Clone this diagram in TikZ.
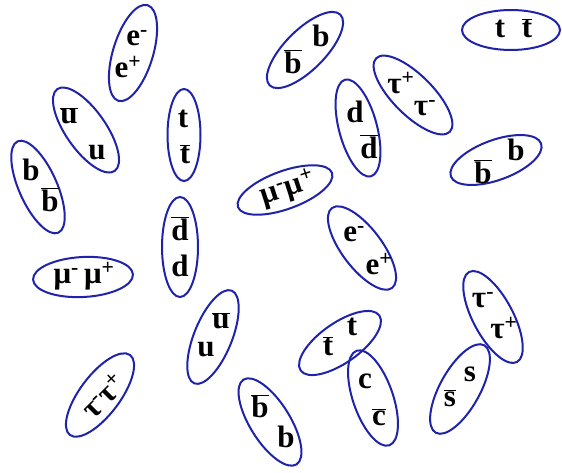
\documentclass[tikz,border=0pt]{standalone}
\usepackage{fontspec}
\setmainfont{Liberation Serif}
\usetikzlibrary{shapes.geometric}
\definecolor{pairblue}{RGB}{30,35,170}
\newcommand\ab[1]{$\overline{\hbox{#1}}$}
\newcommand\sm{\textsuperscript{-}}
\newcommand\spl{\textsuperscript{+}}
\tikzset{
  pair/.style={draw=pairblue, line width=2pt, ellipse, inner sep=0pt,
    minimum width=100pt, minimum height=40pt},
  lbl/.style={font=\fontsize{31}{31}\selectfont\bfseries, inner sep=0pt}
}
\begin{document}
\begin{tikzpicture}[x=1pt,y=-1pt]
\useasboundingbox (0,0) rectangle (562,472);
% ellipses
\node[pair,rotate=73] (E1) at (133,53) {};
\node[pair,rotate=125] (U1) at (86,130) {};
\node[pair,rotate=114,minimum height=38pt] (B1) at (38,187) {};
\node[pair,rotate=3] (M1) at (83,277) {};
\node[pair,rotate=90,minimum width=92pt,minimum height=33pt] (T1) at (184,135) {};
\node[pair,rotate=90,minimum height=36pt] (D1) at (180,247) {};
\node[pair,rotate=20,minimum height=38pt] (M2) at (285,190) {};
\node[pair,rotate=45] (B2) at (305,50) {};
\node[pair,rotate=105,minimum height=38pt] (D2) at (358,128) {};
\node[pair,rotate=135,minimum width=104pt] (Ta1) at (413,95) {};
\node[pair,rotate=0,minimum width=98pt] (T2) at (511,30) {};
\node[pair,rotate=20,minimum width=96pt] (B3) at (496,160) {};
\node[pair,rotate=127] (E2) at (362,248) {};
\node[pair,rotate=118,minimum width=102pt] (Ta2) at (493,317) {};
\node[pair,rotate=61] (S1) at (460,389) {};
\node[pair,rotate=109] (C1) at (373,398) {};
\node[pair,rotate=35,minimum width=96pt] (T3) at (340,343) {};
\node[pair,rotate=68,minimum height=38pt] (U2) at (213,337) {};
\node[pair,rotate=122] (B4) at (270,422) {};
\node[pair,rotate=53] (Ta3) at (100,395) {};
% labels
\node[lbl] (e1a) at (137,38) {e\sm};
\node[lbl] (e1b) at (128,67) {e\spl};
\node[lbl] (u1a) at (69,116) {\ab{u}};
\node[lbl] (u1b) at (97,153) {u};
\node[lbl] (b1a) at (31,170) {b};
\node[lbl] (b1b) at (50,200) {\ab{b}};
\node[lbl] (m1) at (84,276) {μ\sm\,μ\spl};
\node[lbl] (t1a) at (183,119) {t};
\node[lbl] (t1b) at (185,154) {\ab{t}};
\node[lbl] (d1a) at (180,229) {\ab{d}};
\node[lbl] (d1b) at (180,266) {d};
\node[lbl,rotate=18] (m2) at (288,189) {μ\sm μ\spl};
\node[lbl] (b2a) at (293,62) {\ab{b}};
\node[lbl] (b2b) at (321,36) {b};
\node[lbl] (d2a) at (355,112) {d};
\node[lbl] (d2b) at (369,147) {\ab{d}};
\node[lbl] (ta1a) at (401,83) {τ\spl};
\node[lbl] (ta1b) at (425,108) {τ\sm};
\node[lbl] (t2a) at (500,29) {t};
\node[lbl] (t2b) at (527,28) {\ab{t}};
\node[lbl] (b3a) at (483,172) {\ab{b}};
\node[lbl] (b3b) at (516,150) {b};
\node[lbl] (e2a) at (354,234) {e\sm};
\node[lbl] (e2b) at (379,264) {e\spl};
\node[lbl] (ta2a) at (483,300) {τ\sm};
\node[lbl] (ta2b) at (504,328) {τ\spl};
\node[lbl] (s1a) at (470,374) {s};
\node[lbl] (s1b) at (450,398) {\ab{s}};
\node[lbl] (c1a) at (365,381) {c};
\node[lbl] (c1b) at (379,417) {\ab{c}};
\node[lbl] (t3a) at (328,346) {\ab{t}};
\node[lbl] (t3b) at (352,327) {t};
\node[lbl] (u2a) at (221,321) {\ab{u}};
\node[lbl] (u2b) at (206,350) {u};
\node[lbl] (b4a) at (260,406) {\ab{b}};
\node[lbl] (b4b) at (286,437) {b};
\node[lbl,rotate=45] (ta3) at (103,396) {τ\sm τ\spl};
\end{tikzpicture}
\end{document}
